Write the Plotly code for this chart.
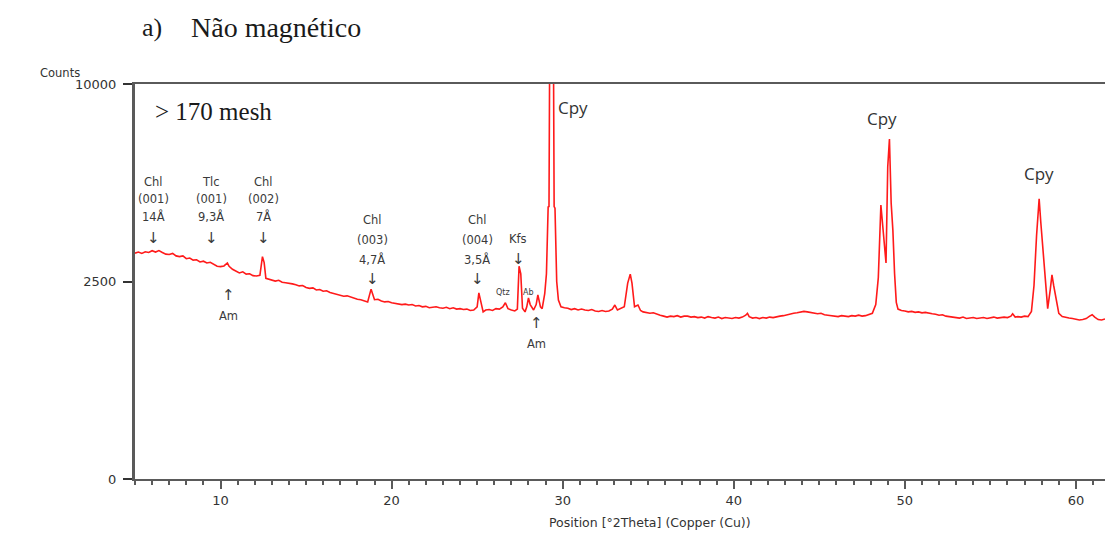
import numpy as np
import plotly.graph_objects as go

# ---- data (2theta in degrees, intensity in counts) ----
two_theta = [
    5.0, 5.2, 5.4, 5.6, 5.8, 6.0, 6.2, 6.4, 6.6, 6.8, 7.0, 7.2, 7.4, 7.6, 7.8, 8.0, 8.2, 8.4, 8.6, 8.8,
    9.0, 9.2, 9.4, 9.6, 9.8, 10.0, 10.2, 10.4, 10.5, 10.7, 10.9, 11.1, 11.3, 11.5, 11.7, 11.9, 12.1, 12.3,
    12.45, 12.55, 12.65, 12.8, 13.0, 13.2, 13.4, 13.6, 13.8, 14.0, 14.2, 14.4, 14.6, 14.8, 15.0, 15.2,
    15.4, 15.6, 15.8, 16.0, 16.2, 16.4, 16.6, 16.8, 17.0, 17.2, 17.4, 17.6, 17.8, 18.0, 18.2, 18.4, 18.6,
    18.8, 18.9, 19.0, 19.2, 19.4, 19.6, 19.8, 20.0, 20.2, 20.4, 20.6, 20.8, 21.0, 21.2, 21.4, 21.6, 21.8,
    22.0, 22.2, 22.4, 22.6, 22.8, 23.0, 23.2, 23.4, 23.6, 23.8, 24.0, 24.2, 24.4, 24.6, 24.8, 25.0, 25.1,
    25.2, 25.35, 25.5, 25.7, 25.9, 26.1, 26.3, 26.5, 26.65, 26.8, 27.0, 27.2, 27.35, 27.45, 27.55, 27.65,
    27.8, 27.9, 28.0, 28.1, 28.3, 28.45, 28.55, 28.7, 28.8, 28.95, 29.05, 29.15, 29.2, 29.25, 29.45, 29.5,
    29.55, 29.65, 29.75, 29.9, 30.1, 30.3, 30.5, 30.7, 30.9, 31.1, 31.3, 31.5, 31.7, 31.9, 32.1, 32.3,
    32.5, 32.7, 32.9, 33.05, 33.2, 33.4, 33.6, 33.8, 33.95, 34.05, 34.2, 34.4, 34.55, 34.7, 34.9, 35.1,
    35.3, 35.5, 35.7, 35.9, 36.1, 36.3, 36.5, 36.7, 36.9, 37.1, 37.3, 37.5, 37.7, 37.9, 38.1, 38.3, 38.5,
    38.7, 38.9, 39.1, 39.3, 39.5, 39.7, 39.9, 40.1, 40.3, 40.5, 40.7, 40.8, 40.9, 41.1, 41.3, 41.5, 41.7,
    41.9, 42.1, 42.3, 42.5, 42.7, 42.9, 43.1, 43.3, 43.5, 43.7, 43.9, 44.1, 44.3, 44.5, 44.7, 44.9, 45.1,
    45.3, 45.5, 45.7, 45.9, 46.1, 46.3, 46.5, 46.7, 46.9, 47.1, 47.3, 47.5, 47.7, 47.9, 48.1, 48.3, 48.45,
    48.6, 48.75, 48.9, 49.0, 49.1, 49.2, 49.3, 49.4, 49.5, 49.6, 49.8, 50.0, 50.2, 50.4, 50.6, 50.8, 51.0,
    51.2, 51.4, 51.6, 51.8, 52.0, 52.2, 52.4, 52.6, 52.8, 53.0, 53.2, 53.4, 53.6, 53.8, 54.0, 54.2, 54.4,
    54.6, 54.8, 55.0, 55.2, 55.4, 55.6, 55.8, 56.0, 56.2, 56.3, 56.45, 56.6, 56.8, 57.0, 57.2, 57.4, 57.55,
    57.7, 57.85, 57.95, 58.05, 58.2, 58.35, 58.5, 58.6, 58.7, 58.85, 59.0, 59.2, 59.4, 59.6, 59.8, 60.0,
    60.2, 60.4, 60.6, 60.8, 60.95, 61.1, 61.3, 61.5, 61.7,
]
counts = [
    3270, 3300, 3260, 3310, 3290, 3340, 3300, 3345, 3290, 3240, 3230, 3260, 3190, 3170, 3190, 3110, 3130, 3070, 3080, 3020,
    3040, 2990, 3010, 2950, 2900, 2890, 2910, 2990, 2900, 2820, 2760, 2720, 2750, 2690, 2700, 2650, 2640, 2660,
    3170, 3000, 2580, 2560, 2540, 2510, 2530, 2480, 2470, 2460, 2440, 2420, 2390, 2400, 2350, 2330,
    2340, 2290, 2300, 2260, 2270, 2230, 2210, 2180, 2160, 2140, 2150, 2120, 2090, 2070, 2060, 2040, 2010,
    2310, 2200, 2060, 2070, 2030, 2010, 2020, 1990, 1980, 1960, 1950, 1960, 1940, 1950, 1920, 1930, 1900,
    1910, 1880, 1890, 1900, 1880, 1870, 1890, 1860, 1880, 1850, 1860, 1840, 1850, 1820, 1830, 1900, 2220,
    2050, 1790, 1830, 1840, 1820, 1860, 1850, 1900, 1990, 1860, 1830, 1810, 1850, 2900, 2700, 1870,
    1790, 1900, 2100, 1950, 1830, 1950, 2170, 1900, 1860, 2200, 2700, 4740, 4760, 14000, 14000, 4760,
    4700, 2500, 2050, 1900, 1880, 1870, 1840, 1860, 1830, 1850, 1830, 1820, 1840, 1810, 1800, 1820,
    1800, 1810, 1850, 1940, 1830, 1860, 1900, 2460, 2690, 2460, 1900, 1940, 1820, 1790, 1780, 1760,
    1770, 1740, 1720, 1700, 1680, 1700, 1690, 1710, 1680, 1700, 1700, 1680, 1690, 1670, 1680, 1660, 1690,
    1670, 1660, 1680, 1650, 1670, 1660, 1650, 1670, 1660, 1680, 1720, 1760, 1690, 1660, 1670, 1650, 1670,
    1660, 1680, 1670, 1690, 1700, 1710, 1730, 1740, 1760, 1770, 1790, 1800, 1790, 1780, 1770, 1750, 1760,
    1730, 1720, 1710, 1700, 1690, 1710, 1700, 1690, 1710, 1700, 1720, 1700, 1710, 1740, 1760, 1950, 2600,
    4810, 3750, 2990, 6240, 7410, 4880, 3970, 2700, 2000, 1850, 1820, 1810, 1790, 1800, 1780, 1790, 1770,
    1780, 1760, 1750, 1740, 1720, 1730, 1700, 1690, 1680, 1670, 1660, 1680, 1650, 1660, 1670, 1650, 1660,
    1670, 1650, 1660, 1680, 1660, 1670, 1680, 1670, 1700, 1750, 1680, 1690, 1680, 1700, 1690, 1800, 2400,
    3800, 5030, 4200, 3450, 2600, 1860, 2300, 2670, 2400, 2050, 1760, 1690, 1670, 1660, 1650, 1640,
    1620, 1630, 1650, 1700, 1730, 1680, 1630, 1620, 1640,
]
y_tick_labels = [0, 2500, 10000]
x_tick_labels = [10, 20, 30, 40, 50, 60]

# peak labels: (text lines, pixel x, pixel y of each line)
label_groups = [
    (["Chl", "(001)", "14Å", "↓"], 153, [182, 199, 216, 238]),
    (["Tlc", "(001)", "9,3Å", "↓"], 211, [182, 199, 216, 238]),
    (["Chl", "(002)", "7Å", "↓"], 263, [182, 199, 216, 238]),
    (["↑", "Am"], 228, [295, 316]),
    (["Chl", "(003)", "4,7Å", "↓"], 372, [220, 240, 259, 279]),
    (["Chl", "(004)", "3,5Å", "↓"], 477, [220, 240, 259, 279]),
    (["Kfs", "↓"], 518, [239, 259]),
    (["↑", "Am"], 536, [323, 344]),
]
tiny_labels = [("Qtz", 503, 292), ("Ab", 528, 292)]
cpy_labels = [("Cpy", 573, 107), ("Cpy", 882, 118), ("Cpy", 1039, 173)]

# ---- figure geometry (pixels) ----
W, H = 1105, 534
L, R, T, B = 135, 0, 84, 55
X0, X1 = 5.0, 61.7
PW, PH = W - L - R, H - T - B


def px_x(px):
    return X0 + (px - L) / PW * (X1 - X0)


def px_y(py):
    return (H - B - py) / PH * 100.0


fig = go.Figure()
fig.add_trace(go.Scatter(
    x=two_theta, y=np.sqrt(np.array(counts, dtype=float)),
    mode="lines", line=dict(color="#ff1a1a", width=1.6),
    showlegend=False, hoverinfo="skip",
))

ann = []
for lines, px, pys in label_groups:
    for t, py in zip(lines, pys):
        is_arrow = t in ("↓", "↑")
        ann.append(dict(x=px_x(px), y=px_y(py), xref="x", yref="y", text=t, showarrow=False,
                        xanchor="center", yanchor="middle",
                        font=dict(family="DejaVu Sans", size=15 if is_arrow else 11.5,
                                  color="#3a3a3a")))
for t, px, py in tiny_labels:
    ann.append(dict(x=px_x(px), y=px_y(py), xref="x", yref="y", text=t, showarrow=False,
                    xanchor="center", yanchor="middle",
                    font=dict(family="DejaVu Sans", size=8, color="#3a3a3a")))
for t, px, py in cpy_labels:
    ann.append(dict(x=px_x(px), y=px_y(py), xref="x", yref="y", text=t, showarrow=False,
                    xanchor="center", yanchor="middle",
                    font=dict(family="Open Sans", size=17, color="#333333")))


def paper(px, py):
    return (px - L) / PW, (H - B - py) / PH


# titles and axis captions
x_, y_ = paper(140, 28)
ann.append(dict(x=x_, y=y_, xref="paper", yref="paper", text="a)", showarrow=False,
                xanchor="left", yanchor="middle",
                font=dict(family="Liberation Serif", size=26, color="#1a1a1a")))
x_, y_ = paper(189, 28)
ann.append(dict(x=x_, y=y_, xref="paper", yref="paper", text="Não magnético", showarrow=False,
                xanchor="left", yanchor="middle",
                font=dict(family="Liberation Serif", size=28, color="#1a1a1a")))
x_, y_ = paper(153, 111)
ann.append(dict(x=x_, y=y_, xref="paper", yref="paper", text="&gt; 170 mesh", showarrow=False,
                xanchor="left", yanchor="middle",
                font=dict(family="Liberation Serif", size=25, color="#1a1a1a")))
x_, y_ = paper(38, 73)
ann.append(dict(x=x_, y=y_, xref="paper", yref="paper", text="Counts", showarrow=False,
                xanchor="left", yanchor="middle",
                font=dict(family="DejaVu Sans", size=11.5, color="#333333")))
x_, y_ = paper(650, 522)
ann.append(dict(x=x_, y=y_, xref="paper", yref="paper", text="Position [°2Theta] (Copper (Cu))",
                showarrow=False, xanchor="center", yanchor="middle",
                font=dict(family="DejaVu Sans", size=12.5, color="#333333")))

fig.update_layout(
    width=W, height=H,
    margin=dict(l=L, r=R, t=T, b=B, pad=0),
    paper_bgcolor="white", plot_bgcolor="white",
    annotations=ann,
    xaxis=dict(
        range=[X0, X1], showgrid=False, zeroline=False,
        showline=True, linecolor="#5a5a5a", linewidth=2, mirror=True,
        ticks="outside", ticklen=8, tickwidth=2, tickcolor="#5a5a5a",
        tickvals=x_tick_labels, ticktext=[str(v) for v in x_tick_labels],
        tickfont=dict(family="DejaVu Sans", size=13, color="#333333"),
        minor=dict(dtick=1, tick0=0, ticks="outside", ticklen=4, tickwidth=1.5, tickcolor="#5a5a5a",
                   showgrid=False),
    ),
    yaxis=dict(
        range=[0, 100], showgrid=False, zeroline=False,
        showline=True, linecolor="#5a5a5a", linewidth=3,
        ticks="outside", ticklen=9, tickwidth=2, tickcolor="#333333",
        tickvals=list(np.sqrt(y_tick_labels)), ticktext=[str(v) for v in y_tick_labels],
        tickfont=dict(family="DejaVu Sans", size=13, color="#333333"),
        ticklabelstandoff=4,
    ),
)

fig.write_html("out.html")
